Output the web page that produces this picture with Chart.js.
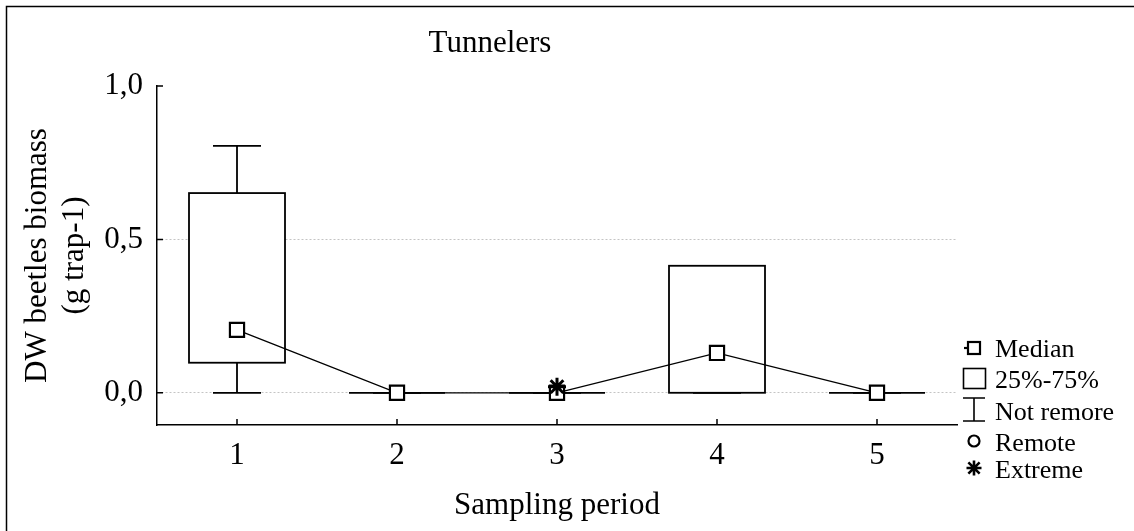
<!DOCTYPE html>
<html>
<head>
<meta charset="utf-8">
<script src="https://cdn.jsdelivr.net/npm/chart.js@4/dist/chart.umd.min.js"></script>
<style>
  body { margin: 0; background: #fff; }
  #wrap { width: 1134px; height: 531px; }
</style>
</head>
<body>
<div id="wrap"><canvas id="chart" width="1134" height="531"></canvas></div>
<script>
const categories = ["1", "2", "3", "4", "5"]
const medians = [0.205, 0, 0, 0.13, 0]
const q1 = [0.098, 0, 0, 0, 0]
const q3 = [0.651, 0, 0, 0.414, 0]
const whiskerLow = [0, 0, 0, 0, 0]
const whiskerHigh = [0.805, 0, 0, 0.414, 0]
const extremeCats = ["3"]
const extremeVals = [0.02]
const yTicks = [0, 0.5, 1.0]
const yTickLabels = ["0,0", "0,5", "1,0"]
const legendLabels = ["Median", "25%-75%", "Not remore", "Remote", "Extreme"]

const FONT = "'Liberation Serif', 'Times New Roman', serif"

// boxes + whiskers, drawn under the median line
const boxPlugin = {
    id: "boxes",
    beforeDatasetsDraw(chart) {
        const ctx = chart.ctx
        const x = chart.scales.x
        const y = chart.scales.y
        const half = x.width / categories.length * 0.3
        const cap = half / 2
        ctx.save()
        ctx.strokeStyle = "#000"
        ctx.lineWidth = 1.8
        categories.forEach((c, i) => {
            const cx = x.getPixelForValue(i)
            const yLo = y.getPixelForValue(whiskerLow[i])
            const yHi = y.getPixelForValue(whiskerHigh[i])
            const yQ1 = y.getPixelForValue(q1[i])
            const yQ3 = y.getPixelForValue(q3[i])
            // whiskers
            ctx.beginPath()
            ctx.moveTo(cx, yQ3); ctx.lineTo(cx, yHi)
            ctx.moveTo(cx - cap, yHi); ctx.lineTo(cx + cap, yHi)
            ctx.moveTo(cx, yQ1); ctx.lineTo(cx, yLo)
            ctx.moveTo(cx - cap, yLo); ctx.lineTo(cx + cap, yLo)
            ctx.stroke()
            // box
            ctx.fillStyle = "#fff"
            if (yQ1 - yQ3 > 0.5) ctx.fillRect(cx - half, yQ3, half * 2, yQ1 - yQ3)
            ctx.strokeRect(cx - half, yQ3, half * 2, yQ1 - yQ3)
        })
        ctx.restore()
    }
}

// inward ticks, title, legend and frame
const decoPlugin = {
    id: "deco",
    afterDraw(chart) {
        const ctx = chart.ctx
        const x = chart.scales.x
        const y = chart.scales.y
        const area = chart.chartArea
        ctx.save()
        ctx.strokeStyle = "#000"
        ctx.lineWidth = 1.5
        ctx.beginPath()
        yTicks.forEach(v => {
            const py = y.getPixelForValue(v)
            ctx.moveTo(area.left, py); ctx.lineTo(area.left + 6, py)
        })
        categories.forEach((c, i) => {
            const px = x.getPixelForValue(i)
            ctx.moveTo(px, area.bottom); ctx.lineTo(px, area.bottom - 6)
        })
        ctx.stroke()

        // frame (only left/top visible)
        ctx.lineWidth = 1.5
        ctx.strokeRect(6.5, 6.5, 1200, 600)

        // title
        ctx.fillStyle = "#000"
        ctx.font = "31px " + FONT
        ctx.textAlign = "center"
        ctx.textBaseline = "alphabetic"
        ctx.fillText("Tunnelers", 490, 52)

        // legend
        const lx = 974
        const rows = [357, 388, 420, 451, 478]
        ctx.lineWidth = 2.2
        // median
        ctx.strokeRect(lx - 6, 342, 12, 12)
        ctx.beginPath(); ctx.moveTo(lx - 10, 348); ctx.lineTo(lx - 6, 348); ctx.stroke()
        // 25-75
        ctx.lineWidth = 1.6
        ctx.strokeRect(963.5, 368.5, 22, 20)
        // whisker
        ctx.beginPath()
        ctx.moveTo(963, 398); ctx.lineTo(985, 398)
        ctx.moveTo(lx, 398); ctx.lineTo(lx, 421)
        ctx.moveTo(963, 421); ctx.lineTo(985, 421)
        ctx.stroke()
        // remote
        ctx.lineWidth = 2.2
        ctx.beginPath(); ctx.arc(lx, 441, 5.5, 0, Math.PI * 2); ctx.stroke()
        // extreme
        ctx.lineWidth = 2.6
        ctx.beginPath()
        const r = 7.5
        ctx.moveTo(lx - r, 468); ctx.lineTo(lx + r, 468)
        ctx.moveTo(lx, 468 - r); ctx.lineTo(lx, 468 + r)
        ctx.moveTo(lx - r * 0.75, 468 - r * 0.75); ctx.lineTo(lx + r * 0.75, 468 + r * 0.75)
        ctx.moveTo(lx - r * 0.75, 468 + r * 0.75); ctx.lineTo(lx + r * 0.75, 468 - r * 0.75)
        ctx.stroke()

        ctx.font = "26px " + FONT
        ctx.textAlign = "left"
        legendLabels.forEach((t, i) => ctx.fillText(t, 995, rows[i]))
        ctx.restore()
    }
}

const ctx = document.getElementById("chart").getContext("2d")
new Chart(ctx, {
    type: "line",
    data: {
        labels: categories,
        datasets: [
            {
                label: "Median",
                order: 2,
                data: medians,
                borderColor: "#000",
                borderWidth: 1.3,
                pointStyle: "rect",
                pointRadius: 10,
                pointBorderWidth: 2.2,
                pointBackgroundColor: "#fff",
                pointBorderColor: "#000",
                tension: 0
            },
            {
                label: "Extreme",
                order: 1,
                data: extremeCats.map((c, i) => ({ x: c, y: extremeVals[i] })),
                showLine: false,
                pointStyle: "star",
                pointRadius: 9,
                pointBorderWidth: 3,
                pointBorderColor: "#000"
            }
        ]
    },
    plugins: [boxPlugin, decoPlugin],
    options: {
        responsive: false,
        animation: false,
        layout: { padding: { left: 0, top: 86, right: 177, bottom: 0 } },
        plugins: { legend: { display: false }, tooltip: { enabled: false } },
        scales: {
            x: {
                offset: true,
                grid: { display: false, drawTicks: false },
                border: { display: true, color: "#000", width: 1.5 },
                ticks: { color: "#000", padding: 12, font: { family: FONT, size: 31 } },
                title: {
                    display: true,
                    text: "Sampling period",
                    color: "#000",
                    padding: { top: 0, bottom: 7 },
                    font: { family: FONT, size: 31 }
                },
                afterFit: s => { s.height = 106 }
            },
            y: {
                min: -0.105,
                max: 1.0,
                afterBuildTicks: s => { s.ticks = yTicks.map(v => ({ value: v })) },
                grid: {
                    drawTicks: false,
                    color: c => (c.tick && c.tick.value < 0.99) ? "#c4c4c4" : "rgba(0,0,0,0)",
                    lineWidth: 1
                },
                border: { display: true, color: "#000", width: 1.5, dash: [2, 2] },
                ticks: {
                    color: "#000",
                    padding: 14,
                    font: { family: FONT, size: 31 },
                    callback: (v, i) => yTickLabels[i]
                },
                title: {
                    display: true,
                    text: ["DW beetles biomass", "(g trap-1)"],
                    color: "#000",
                    padding: { top: 19, bottom: 0 },
                    font: { family: FONT, size: 31 }
                },
                afterFit: s => { s.width = 157 }
            }
        }
    }
})
</script>
</body>
</html>
